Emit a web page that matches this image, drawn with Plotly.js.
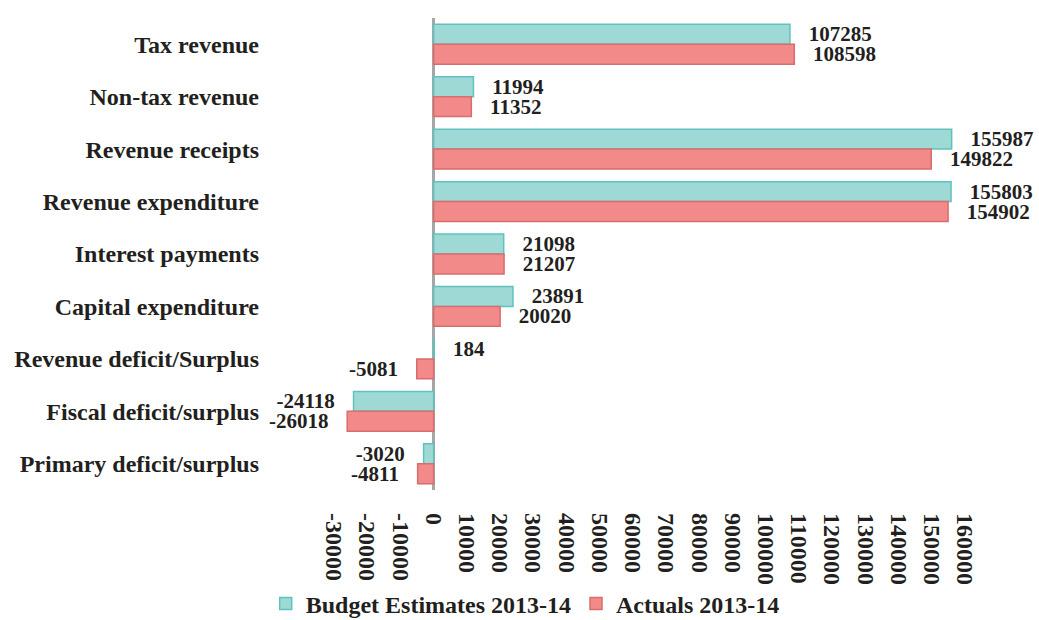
<!DOCTYPE html>
<html>
<head>
<meta charset="utf-8">
<script src="https://cdn.plot.ly/plotly-3.0.1.min.js"></script>
<style>html,body{margin:0;padding:0;background:#fff;}#chart{width:1039px;height:620px;}</style>
</head>
<body>
<div id="chart"></div>
<script>
const categories = [
  "Tax revenue",
  "Non-tax revenue",
  "Revenue receipts",
  "Revenue expenditure",
  "Interest payments",
  "Capital expenditure",
  "Revenue deficit/Surplus",
  "Fiscal deficit/surplus",
  "Primary deficit/surplus"
];
const budgetEstimates = [107285, 11994, 155987, 155803, 21098, 23891, 184, -24118, -3020];
const actuals = [108598, 11352, 149822, 154902, 21207, 20020, -5081, -26018, -4811];
const seriesNames = ["Budget Estimates 2013-14", "Actuals 2013-14"];
const xTickValues = [-30000,-20000,-10000,0,10000,20000,30000,40000,50000,60000,70000,80000,90000,100000,110000,120000,130000,140000,150000,160000];

const FONT = "Liberation Serif, Times New Roman, serif";
const pad = "\u00a0\u00a0\u00a0";
function labels(arr){ return arr.map(v => v < 0 ? (String(v) + pad) : (pad + String(v))); }

const traces = [
  {
    type: "bar", orientation: "h", name: seriesNames[0],
    y: categories, x: budgetEstimates,
    text: labels(budgetEstimates), textposition: "outside", cliponaxis: false, constraintext: "none",
    textfont: {family: FONT, size: 21, weight: "bold", color: "#231f20"},
    marker: {color: "#9fd9d6", line: {color: "#5ec3bf", width: 1.5}},
    hoverinfo: "none"
  },
  {
    type: "bar", orientation: "h", name: seriesNames[1],
    y: categories, x: actuals,
    text: labels(actuals), textposition: "outside", cliponaxis: false, constraintext: "none",
    textfont: {family: FONT, size: 21, weight: "bold", color: "#231f20"},
    marker: {color: "#f28a8a", line: {color: "#d96c6c", width: 1.5}},
    hoverinfo: "none"
  }
];

const layout = {
  width: 1039, height: 620,
  margin: {l: 334, r: 74, t: 18, b: 130, autoexpand: false},
  paper_bgcolor: "#ffffff", plot_bgcolor: "#ffffff",
  font: {family: FONT, size: 24, weight: "bold", color: "#231f20"},
  barmode: "group", bargap: 0.24, bargroupgap: 0,
  showlegend: true,
  legend: {
    orientation: "h", x: 0.303, xanchor: "center", yref: "container", y: 0.026, yanchor: "middle",
    bgcolor: "rgba(0,0,0,0)",
    font: {family: FONT, size: 24, weight: "bold", color: "#231f20"},
    traceorder: "normal", itemwidth: 30
  },
  xaxis: {
    range: [-30000, 160000], tickvals: xTickValues, ticktext: xTickValues.map(String),
    tickangle: 90, showgrid: false, showline: false, ticks: "",
    zeroline: true, zerolinecolor: "#a6a6a6", zerolinewidth: 3,
    tickfont: {family: FONT, size: 24, weight: "bold", color: "#231f20"},
    ticklabelstandoff: 22
  },
  yaxis: {
    type: "category", autorange: "reversed", showgrid: false, showline: false, ticks: "",
    zeroline: false,
    tickfont: {family: FONT, size: 24, weight: "bold", color: "#231f20"},
    ticklabelstandoff: 74
  }
};

Plotly.newPlot("chart", traces, layout, {displayModeBar: false, staticPlot: true});
</script>
</body>
</html>
